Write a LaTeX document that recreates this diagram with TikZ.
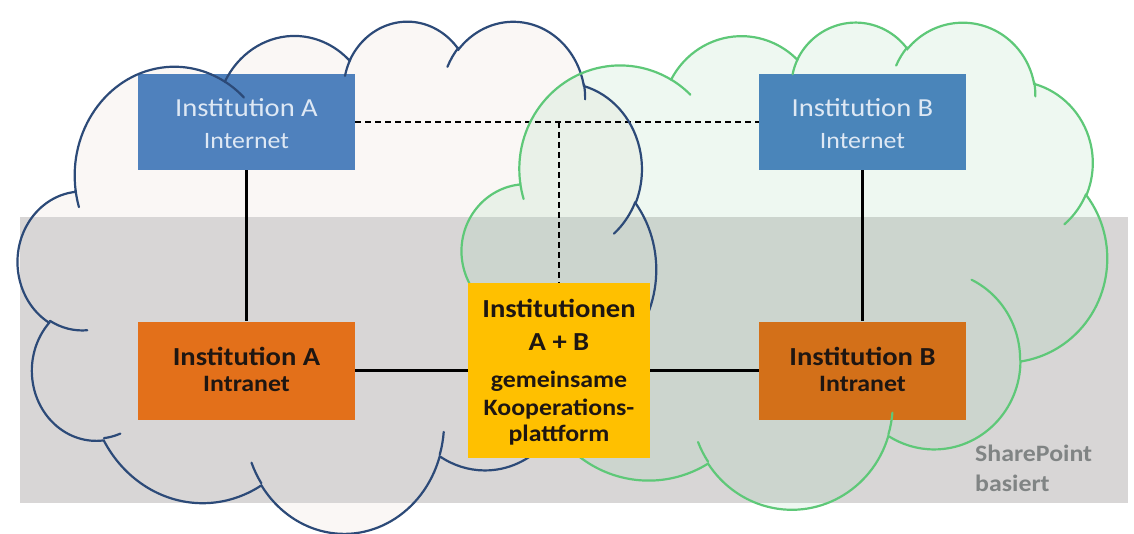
\documentclass[tikz,border=0pt]{standalone}
\usepackage{fontspec}
\setmainfont{Carlito}[FakeStretch=1.1]

\definecolor{bandgray}{RGB}{216,214,214}
\definecolor{bluefill}{RGB}{250,247,245}
\definecolor{greenfill}{RGB}{141,208,161}
\definecolor{blueline}{RGB}{44,74,120}
\definecolor{greenline}{RGB}{94,200,120}
\definecolor{netblue}{RGB}{79,129,189}
\definecolor{netblueB}{RGB}{74,133,186}
\definecolor{nettext}{RGB}{222,232,244}
\definecolor{intraA}{RGB}{227,112,26}
\definecolor{intraB}{RGB}{211,112,25}
\definecolor{darktext}{RGB}{30,22,18}
\definecolor{coopyellow}{RGB}{255,192,0}
\definecolor{notegray}{RGB}{128,132,132}

% Elliptical arc given by radii, visual start angle and sweep (degrees),
% converted to the parametric angles that TikZ uses.
\newcommand\ooarc[4]{%
  \pgfextra{%
    \pgfmathsetmacro\ooa{atan2((#1)*sin(#3),(#2)*cos(#3))}%
    \pgfmathsetmacro\oob{atan2((#1)*sin(#3+#4),(#2)*cos(#3+#4))}%
    \pgfmathsetmacro\ood{mod(\oob-\ooa+720,360)}%
    \global\let\ooA\ooa \global\let\ooD\ood}%
  arc[start angle=\ooA, delta angle=\ooD, x radius=#1, y radius=#2]}

% Cloud outline in a 432 x 432 frame
\newcommand\cloudoutline{%
  (39.00,143.70)
  \ooarc{67.53}{91.90}{-190.4875}{123.7805}
  \ooarc{53.33}{72.67}{-144.1024}{89.9452}
  \ooarc{43.65}{59.45}{-145.8079}{99.7230}
  \ooarc{48.57}{65.95}{-130.9861}{117.2417}
  \ooarc{53.33}{72.73}{-78.7089}{109.0269}
  \ooarc{67.75}{92.20}{-46.2673}{130.2690}
  \ooarc{57.85}{78.67}{0.6250}{114.0333}
  \ooarc{67.52}{92.15}{22.4516}{115.1726}
  \ooarc{77.20}{105.43}{66.2426}{75.7110}
  \ooarc{43.60}{59.18}{-274.9421}{146.7356}
  \ooarc{43.45}{59.45}{-246.8285}{152.5189}
  -- cycle}

% Inner arcs of the cloud
\newcommand\cloudhooks{%
  (46.93,261.77) \ooarc{43.45}{59.45}{86.7420}{26.4295}
  (69.28,348.99) \ooarc{43.60}{59.18}{73.6105}{11.4475}
  (164.78,390.90) \ooarc{67.52}{92.15}{137.6242}{14.0811}
  (288.27,347.51) \ooarc{67.52}{92.15}{6.4533}{15.9984}
  (341.29,229.54) \ooarc{57.85}{78.67}{-70.2924}{70.9174}
  (417.98,153.54) \ooarc{53.33}{72.73}{30.3180}{27.7515}
  (383.24,54.26) \ooarc{48.57}{65.95}{-13.7443}{14.8589}
  (290.78,39.52) \ooarc{48.57}{65.95}{-149.1815}{18.1954}
  (221.41,47.20) \ooarc{43.65}{59.45}{-163.4943}{17.6864}
  (140.00,51.92) \ooarc{67.53}{91.90}{-66.7070}{12.3194}
  (41.27,157.89) \ooarc{67.53}{91.90}{157.6544}{11.8582}}

\tikzset{
  box/.style={rectangle, inner sep=0pt, draw=none},
  netbox/.style={box, minimum height=96pt},
  intrabox/.style={box, minimum height=98pt},
  link/.style={line width=2.2pt, draw=black},
  weblink/.style={line width=1.3pt, draw=black, dash pattern=on 6pt off 4pt},
  cloudline/.style={line width=2.2pt, line cap=round},
  bluecloud/.style={shift={(18,20)}, x=1.47685pt, y=-1.18519pt},
  greencloud/.style={shift={(462,21)}, x=1.49306pt, y=-1.12731pt},
  lbl/.style={inner sep=0pt, anchor=base},
  bigtxt/.style={lbl, font=\fontsize{26}{30}\selectfont},
  smalltxt/.style={lbl, font=\fontsize{23.5}{28}\selectfont},
  bigbold/.style={lbl, font=\fontsize{26}{30}\selectfont\bfseries},
  smallbold/.style={lbl, font=\fontsize{23.5}{28}\selectfont\bfseries},
}

\begin{document}
\begin{tikzpicture}[x=1pt, y=-1pt]
  \useasboundingbox (0,0) rectangle (1134,534);

  % cloud fills and the SharePoint band
  \begin{scope}[bluecloud]
    \fill[bluefill] \cloudoutline;
  \end{scope}
  \fill[bandgray] (20,217) rectangle (1128,503);
  \begin{scope}[greencloud]
    \fill[greenfill, fill opacity=0.15] \cloudoutline;
  \end{scope}

  % boxes
  \node[netbox, fill=netblue, minimum width=217pt] (intA) at (246.5,122) {};
  \node[netbox, fill=netblueB, minimum width=207pt] (intB) at (862.5,122) {};
  \node[intrabox, fill=intraA, minimum width=217pt] (intraA) at (246.5,370.5) {};
  \node[intrabox, fill=intraB, minimum width=207pt] (intraB) at (862.5,370.5) {};
  \node[box, fill=coopyellow, minimum width=182pt, minimum height=174pt] (coop) at (559,370.5) {};

  % connectors
  \coordinate (tap) at (coop.north |- intA.center);
  \draw[weblink] (intA) -- (intB);
  \draw[weblink] (tap) -- (coop);
  \draw[link] (intA) -- (intraA);
  \draw[link] (intB) -- (intraB);
  \draw[link] (intraA) -- (coop);
  \draw[link] (coop) -- (intraB);

  % cloud outlines
  \begin{scope}[bluecloud]
    \draw[cloudline, draw=blueline] \cloudoutline;
    \draw[cloudline, draw=blueline] \cloudhooks;
  \end{scope}
  \begin{scope}[greencloud]
    \draw[cloudline, draw=greenline] \cloudoutline;
    \draw[cloudline, draw=greenline] \cloudhooks;
  \end{scope}

  % shared platform in front
  \node[box, fill=coopyellow, minimum width=182pt, minimum height=174pt] (coopfront) at (coop) {};

  % labels
  \node[bigtxt, text=nettext] (intAa) at (246.5,116.7) {Institution A};
  \node[smalltxt, text=nettext] (intAb) at (246.5,148.3) {Internet};
  \node[bigtxt, text=nettext] (intBa) at (862.5,116.7) {Institution B};
  \node[smalltxt, text=nettext] (intBb) at (862.5,148.3) {Internet};

  \node[bigbold, text=darktext] (intraAa) at (246.5,365) {Institution A};
  \node[smallbold, text=darktext] (intraAb) at (246.5,391.7) {Intranet};
  \node[bigbold, text=darktext] (intraBa) at (862.5,365) {Institution B};
  \node[smallbold, text=darktext] (intraBb) at (862.5,391.7) {Intranet};

  \node[bigbold, text=darktext] (coopa) at (559,318) {Institutionen};
  \node[bigbold, text=darktext] (coopb) at (559,350) {A + B};
  \node[smallbold, text=darktext] (coopc) at (559,387) {gemeinsame};
  \node[smallbold, text=darktext] (coopd) at (559,415) {Kooperations-};
  \node[smallbold, text=darktext] (coope) at (559,441) {plattform};

  \node[smallbold, text=notegray, anchor=base west] (spa) at (975,461.7) {SharePoint};
  \node[smallbold, text=notegray, anchor=base west] (spb) at (975,491.7) {basiert};
\end{tikzpicture}
\end{document}
